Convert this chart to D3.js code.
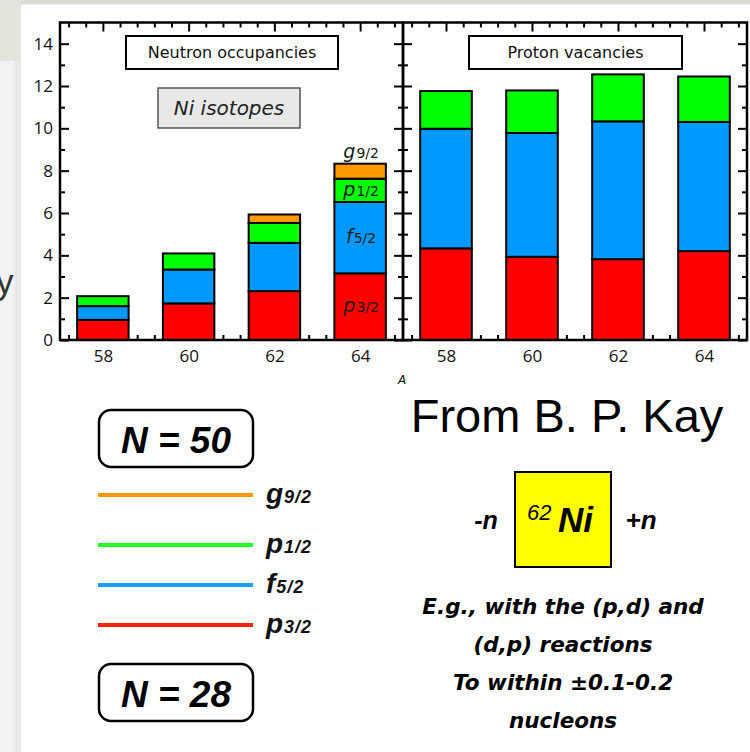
<!DOCTYPE html>
<html><head><meta charset="utf-8">
<script src="https://cdn.jsdelivr.net/npm/d3@7"></script>
<style>body{margin:0;background:#fff}svg{display:block}</style>
</head><body>
<svg id="c" width="750" height="752"></svg>
<script>
// Mass numbers of the Ni isotopes
const massNumbers = [58, 60, 62, 64];
// Orbitals, bottom to top of each stack
const orbitals = ["p32", "f52", "p12", "g92"];
const orbitalLetter = { p32: "p", f52: "f", p12: "p", g92: "g" };
const orbitalFraction = { p32: "3/2", f52: "5/2", p12: "1/2", g92: "9/2" };
const orbitalColor = { p32: "#ff0000", f52: "#0099ff", p12: "#00ff00", g92: "#ff9900" };
const legendColor = { p32: "#ff2200", f52: "#1a9fff", p12: "#22ff22", g92: "#ff9900" };

// Neutron occupancies above N = 28
const neutronP32 = [0.95, 1.73, 2.31, 3.15];
const neutronF52 = [0.65, 1.60, 2.28, 3.37];
const neutronP12 = [0.47, 0.76, 0.94, 1.10];
const neutronG92 = [0.00, 0.00, 0.40, 0.71];

// Proton vacancies below Z = 28 (shown in the same orbitals)
const protonP32 = [4.33, 3.93, 3.82, 4.20];
const protonF52 = [5.65, 5.85, 6.51, 6.10];
const protonP12 = [1.78, 2.01, 2.22, 2.15];
const protonG92 = [0, 0, 0, 0];

// Axis ticks
const yMajorTicks = [0, 2, 4, 6, 8, 10, 12, 14];
const yMinorTicks = [1, 3, 5, 7, 9, 11, 13];
const xMajorTicks = [58, 60, 62, 64];
const xMinorTicks = [57.2, 57.6, 58.4, 58.8, 59.2, 59.6, 60.4, 60.8, 61.2, 61.6,
                     62.4, 62.8, 63.2, 63.6, 64.4, 64.8];

// Legend order (top to bottom) and shell-closure labels
const legendOrder = ["g92", "p12", "f52", "p32"];
const shellLabels = ["N = 50", "N = 28"];

const svg = d3.select("#c");

// ---- page background ----
svg.append("rect").attr("width", 750).attr("height", 752).attr("fill", "#ffffff");
svg.append("rect").attr("x", 0).attr("y", 0).attr("width", 750).attr("height", 4.5).attr("fill", "#dcdcd4");
svg.append("rect").attr("x", 0).attr("y", 60).attr("width", 21).attr("height", 692).attr("fill", "#f2f2f2");
svg.append("rect").attr("x", 14).attr("y", 60).attr("width", 7).attr("height", 692).attr("fill", "#eaeaea");
svg.append("rect").attr("x", 0).attr("y", 0).attr("width", 21).attr("height", 61).attr("fill", "#e4e4dc");
svg.append("text").attr("x", -4).attr("y", 294)
  .style("font", "35px 'Liberation Sans', Arial, sans-serif").attr("fill", "#333").text("y");

// ---- chart ----
const plotTop = 22.5, plotBottom = 340;
const y = d3.scaleLinear().domain([0, 15]).range([plotBottom, plotTop]);
const xLeft = d3.scaleLinear().domain([57, 65]).range([60, 403]);
const xRight = d3.scaleLinear().domain([57, 65]).range([403, 747]);
const barHalf = 0.6;

const sans = "'DejaVu Sans', Verdana, sans-serif";
const tickFont = "17px 'Open Sans', sans-serif";

function styleAxis(g, showLabels) {
  g.select(".domain").remove();
  g.selectAll(".tick line").attr("stroke", "#000").attr("stroke-width", 2);
  if (!showLabels) g.selectAll(".tick text").remove();
  else g.selectAll(".tick text").style("font", tickFont).attr("fill", "#111");
}

function drawPanel(x, rows, opts) {
  const g = svg.append("g");
  // horizontal axes (top and bottom), ticks pointing inward
  g.append("g").attr("transform", `translate(0,${plotTop})`)
    .call(d3.axisTop(x).tickValues(xMinorTicks).tickSize(-5).tickFormat(""))
    .call(a => styleAxis(a, false));
  g.append("g").attr("transform", `translate(0,${plotTop})`)
    .call(d3.axisTop(x).tickValues(xMajorTicks).tickSize(-9).tickFormat(""))
    .call(a => styleAxis(a, false));
  g.append("g").attr("transform", `translate(0,${plotBottom})`)
    .call(d3.axisBottom(x).tickValues(xMinorTicks).tickSize(-5).tickFormat(""))
    .call(a => styleAxis(a, false));
  g.append("g").attr("transform", `translate(0,${plotBottom})`)
    .call(d3.axisBottom(x).tickValues(xMajorTicks).tickSize(-9).tickPadding(10).tickFormat(d3.format("d")))
    .call(a => styleAxis(a, true));
  // vertical axes
  const [x0, x1] = x.range();
  g.append("g").attr("transform", `translate(${x0},0)`)
    .call(d3.axisLeft(y).tickValues(yMinorTicks).tickSize(-5).tickFormat(""))
    .call(a => styleAxis(a, false));
  g.append("g").attr("transform", `translate(${x0},0)`)
    .call(d3.axisLeft(y).tickValues(yMajorTicks).tickSize(-9).tickPadding(7).tickFormat(d3.format("d")))
    .call(a => styleAxis(a, opts.yLabels));
  g.append("g").attr("transform", `translate(${x1},0)`)
    .call(d3.axisRight(y).tickValues(yMinorTicks).tickSize(-5).tickFormat(""))
    .call(a => styleAxis(a, false));
  g.append("g").attr("transform", `translate(${x1},0)`)
    .call(d3.axisRight(y).tickValues(yMajorTicks).tickSize(-9).tickFormat(""))
    .call(a => styleAxis(a, false));

  // stacked bars
  const series = d3.stack().keys(orbitals)(rows);
  series.forEach(layer => {
    g.append("g").selectAll("rect")
      .data(layer.filter(d => d[1] - d[0] > 0))
      .join("rect")
      .attr("x", d => x(d.data.A - barHalf))
      .attr("width", d => x(d.data.A + barHalf) - x(d.data.A - barHalf))
      .attr("y", d => y(d[1]))
      .attr("height", d => y(d[0]) - y(d[1]))
      .attr("fill", orbitalColor[layer.key])
      .attr("stroke", "#000").attr("stroke-width", 2);
  });

  // frame
  g.append("rect").attr("x", x0).attr("y", plotTop)
    .attr("width", x1 - x0).attr("height", plotBottom - plotTop)
    .attr("fill", "none").attr("stroke", "#000").attr("stroke-width", 2.5);

  // title box
  const t = opts.title;
  g.append("rect").attr("x", t.x).attr("y", 36).attr("width", t.w).attr("height", 33)
    .attr("fill", "#fff").attr("stroke", "#000").attr("stroke-width", 2);
  g.append("text").attr("x", t.x + t.w / 2).attr("y", 58).attr("text-anchor", "middle")
    .style("font", `16px ${sans}`).attr("fill", "#111").text(t.text);
  return { g, series };
}

function makeRows(p32, f52, p12, g92) {
  return massNumbers.map((A, i) => ({ A, p32: p32[i], f52: f52[i], p12: p12[i], g92: g92[i] }));
}

const left = drawPanel(xLeft, makeRows(neutronP32, neutronF52, neutronP12, neutronG92),
  { yLabels: true, title: { x: 126, w: 212, text: "Neutron occupancies" } });
drawPanel(xRight, makeRows(protonP32, protonF52, protonP12, protonG92),
  { yLabels: false, title: { x: 469, w: 213, text: "Proton vacancies" } });

// "Ni isotopes" tag
svg.append("rect").attr("x", 158).attr("y", 88).attr("width", 142).attr("height", 40)
  .attr("fill", "#e8e8e8").attr("stroke", "#555").attr("stroke-width", 1.5);
svg.append("text").attr("x", 229).attr("y", 115).attr("text-anchor", "middle")
  .style("font", `italic 20px ${sans}`).attr("fill", "#222").text("Ni isotopes");

// x-axis title
svg.append("text").attr("x", 402).attr("y", 384).attr("text-anchor", "middle")
  .style("font", `italic 12px ${sans}`).attr("fill", "#111").text("A");

// orbital labels on the A = 64 neutron stack
function orbitalText(sel, key, big, small) {
  sel.append("tspan").style("font", `italic ${big}px ${sans}`).text(orbitalLetter[key]);
  sel.append("tspan").style("font", `${small}px ${sans}`).attr("dx", 1).text(orbitalFraction[key]);
}
const last = massNumbers.length - 1;
left.series.forEach(layer => {
  const d = layer[last];
  const mid = layer.key === "g92" ? d[1] + 0.55 : (d[0] + d[1]) / 2;
  const t = left.g.append("text")
    .attr("x", xLeft(d.data.A) + 1).attr("y", y(mid)).attr("dy", "0.35em")
    .attr("text-anchor", "middle").attr("fill", "#1a1a1a");
  orbitalText(t, layer.key, 19, 14);
});

// ---- legend: shell closures and orbital lines ----
const legendY = { g92: 495, p12: 545, f52: 585, p32: 625 };
const arial = "'Liberation Sans', Arial, sans-serif";
const legend = svg.append("g");
legendOrder.forEach(key => {
  legend.append("line").attr("x1", 98).attr("x2", 253)
    .attr("y1", legendY[key]).attr("y2", legendY[key])
    .attr("stroke", legendColor[key]).attr("stroke-width", 4);
  const t = legend.append("text").attr("x", 266).attr("y", legendY[key] + 8).attr("fill", "#111");
  t.append("tspan").style("font", `italic bold 28px ${arial}`).text(orbitalLetter[key]);
  t.append("tspan").style("font", `italic bold 18px ${arial}`)
    .style("letter-spacing", "1px").attr("dx", 1).text(orbitalFraction[key]);
});
const shellBoxY = [410, 664];
shellLabels.forEach((label, i) => {
  legend.append("rect").attr("x", 99).attr("y", shellBoxY[i]).attr("width", 154).attr("height", 57)
    .attr("rx", 12).attr("fill", "#fff").attr("stroke", "#000").attr("stroke-width", 2.5);
  legend.append("text").attr("x", 176).attr("y", shellBoxY[i] + 43).attr("text-anchor", "middle")
    .style("font", `italic bold 37px ${arial}`).attr("fill", "#000").text(label);
});

// ---- credit and note ----
svg.append("text").attr("x", 567).attr("y", 432).attr("text-anchor", "middle")
  .style("font", `47px ${arial}`).attr("fill", "#000").text("From B. P. Kay");

svg.append("rect").attr("x", 515).attr("y", 472).attr("width", 96).attr("height", 95)
  .attr("fill", "#ffff00").attr("stroke", "#000").attr("stroke-width", 2);
svg.append("text").attr("x", 527).attr("y", 520)
  .style("font", `italic 22px ${arial}`).attr("fill", "#000").text("62");
svg.append("text").attr("x", 558).attr("y", 532)
  .style("font", `italic bold 35px ${arial}`).attr("fill", "#000").text("Ni");
svg.append("text").attr("x", 486).attr("y", 529).attr("text-anchor", "middle")
  .style("font", `italic bold 25px ${arial}`).text("-n");
svg.append("text").attr("x", 641).attr("y", 529).attr("text-anchor", "middle")
  .style("font", `italic bold 26px ${arial}`).text("+n");

const noteLines = ["E.g., with the (p,d) and", "(d,p) reactions", "To within \u00b10.1-0.2", "nucleons"];
svg.append("g").selectAll("text").data(noteLines).join("text")
  .attr("x", 563).attr("y", (d, i) => 614 + i * 38).attr("text-anchor", "middle")
  .style("font", `italic bold 21.5px ${sans}`).attr("fill", "#000").text(d => d);
</script>
</body></html>
